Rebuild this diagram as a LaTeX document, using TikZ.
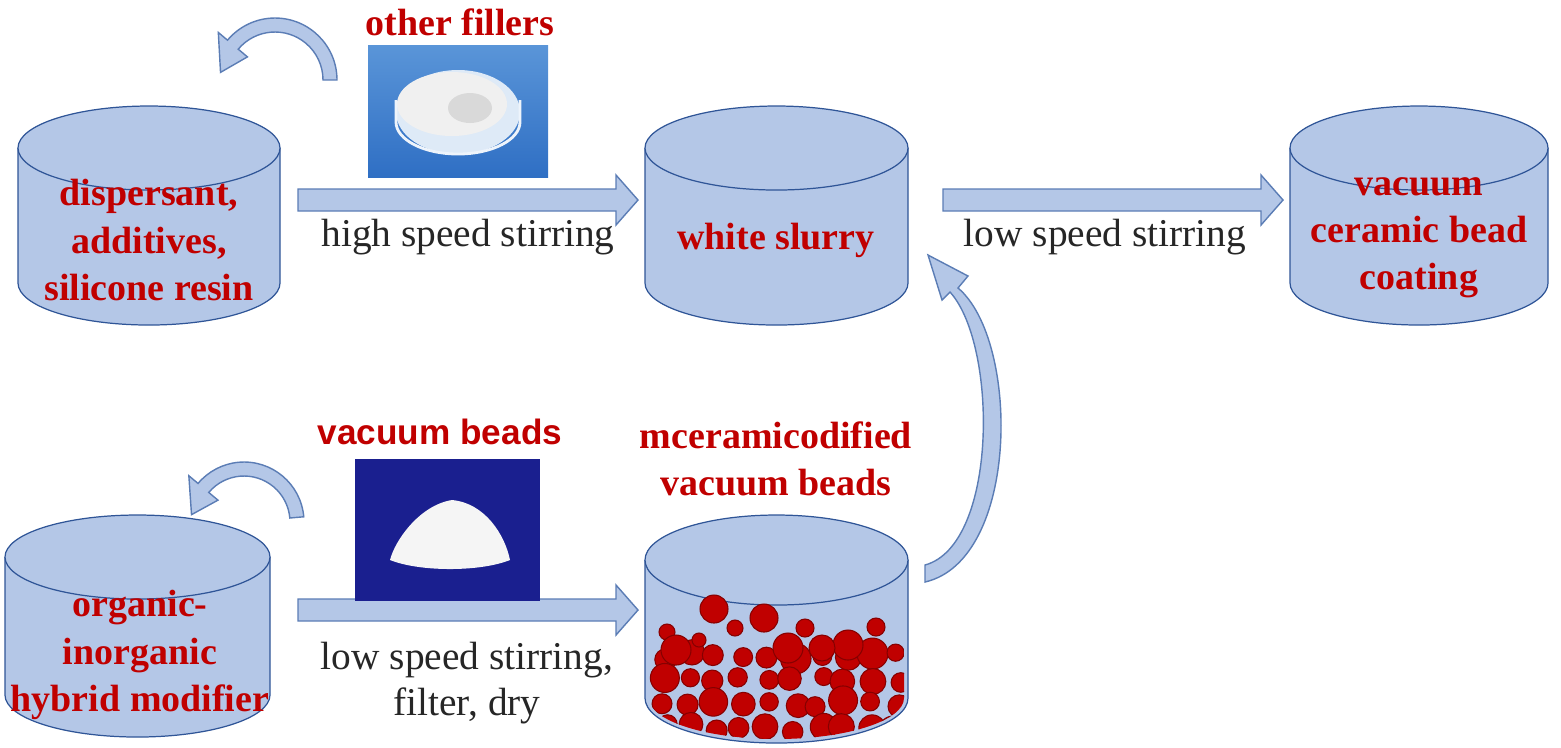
\documentclass[tikz,border=0pt]{standalone}
\usepackage{fontspec}
\setmainfont{Liberation Serif}
\newfontfamily\arialb{Liberation Sans}
\definecolor{cylfill}{HTML}{B4C7E7}
\definecolor{cyldraw}{HTML}{2F5597}
\definecolor{arrfill}{HTML}{B4C7E7}
\definecolor{arrdraw}{HTML}{5B7DB5}
\definecolor{redt}{HTML}{C00000}
\definecolor{bead}{HTML}{C00000}
\definecolor{imgtop}{HTML}{5A95D8}
\definecolor{imgbot}{HTML}{2F6FC4}
\definecolor{imgdark}{HTML}{1A1F8F}
\newcommand\mycyl[5]{% x1 x2 ytop ybot ry
  \pgfmathsetmacro\rx{(#2-#1)/2}\pgfmathsetmacro\cx{(#1+#2)/2}
  \fill[cylfill] (#1,#3) -- (#1,#4) arc[start angle=180,end angle=0,x radius=\rx,y radius=#5] -- (#2,#3) -- cycle;
  \draw[cyldraw,line width=0.35pt] (#1,#3) -- (#1,#4) arc[start angle=180,end angle=0,x radius=\rx,y radius=#5] -- (#2,#3);
  \draw[cyldraw,fill=cylfill,line width=0.35pt] (\cx,#3) ellipse[x radius=\rx,y radius=#5];
}
\newcommand\blockarrow[3]{% x1 x2 y
  \fill[arrfill,draw=arrdraw,line width=0.4pt] (#1,#3-11) -- (#2-22,#3-11) -- (#2-22,#3-25) -- (#2,#3) -- (#2-22,#3+25) -- (#2-22,#3+11) -- (#1,#3+11) -- cycle;
}
\tikzset{
  redlbl/.style={text=redt,font=\fontsize{10.8}{13.4}\selectfont\bfseries,align=center,inner sep=0},
  blklbl/.style={text=black!85,font=\fontsize{11.2}{13}\selectfont,align=center,inner sep=0},
  curvarr/.style={fill=arrfill,draw=arrdraw,line width=0.4pt},
  beadst/.style={fill=bead,draw=bead!70!black,line width=0.3pt}
}
\begin{document}
\begin{tikzpicture}[x=0.01cm,y=-0.01cm]
\useasboundingbox (0,0) rectangle (1561,747);
% cylinders
\mycyl{18}{280}{148}{283}{42}
\mycyl{645}{908}{148}{283}{42}
\mycyl{1290}{1548}{148}{283}{42}
\mycyl{5}{270}{557}{695}{42}
\mycyl{645}{908}{560}{698}{45}
\coordinate (c1) at (149,240);
\coordinate (c2) at (776,240);
\coordinate (c3) at (1419,240);
\coordinate (c4) at (137,650);
\coordinate (c5) at (776,650);
% beads
\begin{scope}
\clip (649,560) -- (649,698) arc[start angle=180,end angle=0,x radius=127.5,y radius=41] -- (904,560) -- cycle;
\pgfmathsetseed{11}
\foreach \y in {656,680,704,728}{
  \foreach \x in {664,690,...,900}{
    \pgfmathsetmacro\dx{rnd*10-5}\pgfmathsetmacro\dy{rnd*8-4}\pgfmathsetmacro\r{8+rnd*8}
    \path[beadst] (\x+\dx,\y+\dy) circle[radius=\r];
  }
}
\end{scope}
\foreach \x/\y/\r in {714/609/14,764/618/14,805/628/9,876/627/9,667/632/8,735/628/8,848/645/15,676/650/15,788/648/15,822/648/13,699/640/7}{
  \path[beadst] (\x,\y) circle[radius=\r];
}
% texts in cylinders
\node[redlbl] (t1) at (c1) {dispersant,\\additives,\\silicone resin};
\node[redlbl] (t2) at (c2) {white slurry};
\node[redlbl] (t3) at (1419,238) {vacuum\\ceramic bead\\coating};
\node[redlbl] (t4) at (140,655) {organic-\\inorganic\\hybrid modifier};
\node[redlbl] (t5) at (776,459) {mceramicodified\\vacuum beads};
\node[redlbl] (of) at (460,22) {other fillers};
\node[text=redt,font=\arialb\fontsize{10}{13}\selectfont\bfseries,inner sep=0] (vb) at (440,432) {vacuum beads};
% block arrows
\blockarrow{298}{638}{200}
\blockarrow{943}{1283}{200}
\blockarrow{298}{638}{610}
\node[blklbl] (l1) at (468,237) {high speed stirring};
\node[blklbl] (l2) at (1105,237) {low speed stirring};
\node[blklbl] (l3) at (467,683) {low speed stirring,\\filter, dry};
% images
\node[inner sep=0,minimum width=180*0.01cm,minimum height=132*0.01cm,shade,top color=imgtop,bottom color=imgbot,draw=none] (img1) at (458,111) {};
\fill[white!80!imgtop] (458,112) ellipse[x radius=62,y radius=42];
\fill[white!88!gray] (452,104) ellipse[x radius=55,y radius=32];
\fill[white!70!gray] (470,108) ellipse[x radius=22,y radius=15];
\draw[white!90!imgtop,line width=0.8pt] (396,100) -- (396,122) arc[start angle=180,end angle=0,x radius=62,y radius=32] -- (520,100);
\node[inner sep=0,minimum width=185*0.01cm,minimum height=142*0.01cm,fill=imgdark] (img2) at (447,530) {};
\fill[white!92!gray] (390,560) .. controls (395,540) and (420,505) .. (452,500) .. controls (485,503) and (505,535) .. (510,560) .. controls (480,572) and (420,572) .. cycle;
% curved arrows
\begin{scope}[shift={(275,80)}]
\path[curvarr] (0:62) arc[start angle=0,end angle=-140,radius=62] -- (-140:74) -- (-172:55) -- (-140:36) -- (-140:48) arc[start angle=-140,end angle=0,radius=48] -- cycle;
\end{scope}
\begin{scope}[shift={(244,522)}]
\path[curvarr] (-5:60) arc[start angle=-5,end angle=-140,radius=60] -- (-140:72) -- (-172:53) -- (-140:34) -- (-140:46) arc[start angle=-140,end angle=-5,radius=46] -- cycle;
\end{scope}
\path[curvarr] (925,582) .. controls (1020,560) and (1020,340) .. (958,288) -- (968,276) -- (928,255) -- (942,300) -- (950,292) .. controls (998,345) and (998,545) .. (925,565) -- cycle;
\end{tikzpicture}
\end{document}
